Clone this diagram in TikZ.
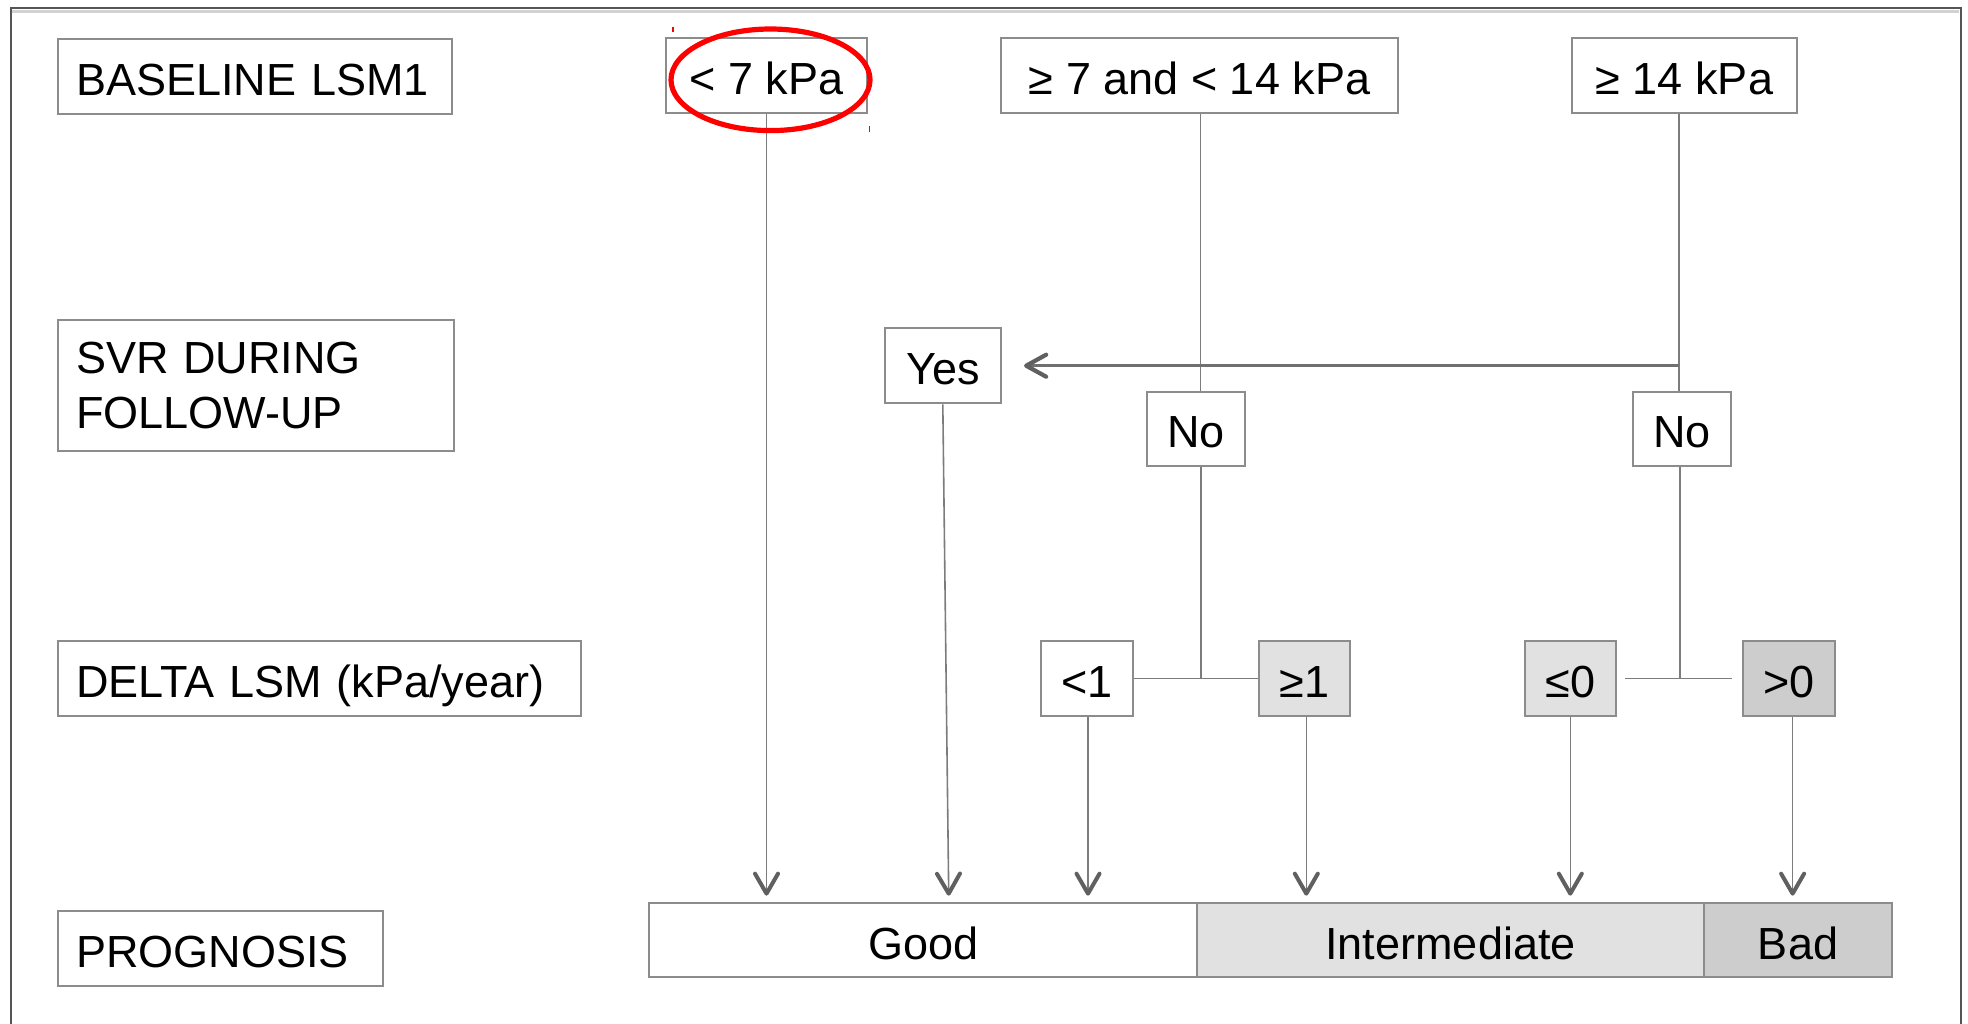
\documentclass[tikz,border=0pt]{standalone}
\usepackage{fontspec}
\setmainfont{Liberation Sans}
\usetikzlibrary{arrows.meta}
\definecolor{boxline}{HTML}{8C8C8C}
\definecolor{conline}{HTML}{7C7C7C}
\definecolor{arrowgray}{HTML}{606060}
\definecolor{fillA}{HTML}{E1E1E1}
\definecolor{fillB}{HTML}{CDCDCD}
\definecolor{framec}{HTML}{555555}
\begin{document}
\begin{tikzpicture}[x=0.5pt,y=-0.5pt,
  font=\fontsize{22.5}{27.5}\selectfont,
  box/.style={draw=boxline,line width=1pt,inner sep=0pt,minimum height=37.5pt,fill=white,text height=19.1pt,text depth=0pt},
  lab/.style={box,anchor=west,inner xsep=9.25pt,align=left},
  conn/.style={draw=conline,line width=0.8pt},
  arr/.style={conn,shorten >=3pt,-{Straight Barb[length=10pt,width=11.5pt,line width=2pt,round,color=arrowgray]}},
  harr/.style={draw=arrowgray!90,line width=1.3pt,-{Straight Barb[length=10pt,width=11pt,line width=2.1pt,round,color=arrowgray]}},
]
\useasboundingbox (0,0) rectangle (1968,1023);
% frame
\draw[gray!35,line width=1.5pt] (12,11.5) -- (1959,11.5);
\draw[framec,line width=1pt] (10.7,1030) -- (10.7,8.3) -- (1961,8.3) -- (1961,1030);

% row labels
\node[lab,text width=178.5pt] (lbase) at (56.5,76.8) {BASELINE LSM1};
\node[lab,text width=179.75pt,minimum height=65.35pt,text height=,text depth=] (lsvr) at (56.5,385.3) {SVR DURING\\FOLLOW-UP};
\node[lab,text width=243.4pt] (ldelta) at (56.5,678.8) {DELTA LSM (kPa/year)};
\node[lab,text width=144.25pt] (lprog) at (56.5,948.5) {PROGNOSIS};

% top row
\node[box,minimum width=100.5pt] (a) at (766.5,75.8) {< 7 kPa};
\node[box,minimum width=198.5pt] (b) at (1199.5,75.8) {≥ 7 and < 14 kPa};
\node[box,minimum width=112.6pt] (c) at (1684.4,75.8) {≥ 14 kPa};

% SVR row
\node[box,minimum width=58.25pt,minimum height=37.65pt] (yes) at (942.8,365.7) {Yes};
\node[box,minimum width=49.25pt,minimum height=37.15pt] (no1) at (1195.8,428.8) {No};
\node[box,minimum width=49.15pt,minimum height=37.15pt] (no2) at (1681.9,428.8) {No};

% delta row
\node[box,minimum width=46.4pt] (d1) at (1087,678.5) {<1};
\node[box,minimum width=45.5pt,fill=fillA] (d2) at (1304.3,678.5) {≥1};
\node[box,minimum width=45.5pt,fill=fillA] (d3) at (1570.3,678.5) {≤0};
\node[box,minimum width=46.15pt,fill=fillB] (d4) at (1789.2,678.5) {>0};

% prognosis row
\node[box,minimum width=274pt,minimum height=37.25pt] (good) at (923.3,939.9) {Good};
\node[box,minimum width=253.15pt,minimum height=37.25pt,fill=fillA] (inter) at (1450.5,939.9) {Intermediate};
\node[box,minimum width=94.4pt,minimum height=37.25pt,fill=fillB] (bad) at (1798,939.9) {Bad};

% connectors
\draw[arr] (a.south) -- (a.south |- good.north);
\draw[arr] (yes.south) -- ([xshift=3pt]yes.south |- good.north);
\draw[conn] ([xshift=0.5pt]b.south) -- ([xshift=0.5pt]b.south |- no1.north);
\draw[conn] ([xshift=-2.7pt]c.south) -- ([xshift=-2.7pt]c.south |- no2.north);
\draw[harr,shorten >=11pt] ([xshift=-2.7pt]c.south |- yes.east) -- (yes.east);
\draw[conn] ([xshift=2.5pt]no1.south) -- ([xshift=2.5pt]no1.south |- d1.east);
\draw[conn] (d1.east) -- (d2.west);
\draw[conn] ([xshift=-1pt]no2.south) -- ([xshift=-1pt]no2.south |- d3.east);
\draw[conn,shorten <=4pt,shorten >=5pt] (d3.east) -- (d4.west);
\draw[arr] ([xshift=0.5pt]d1.south) -- ([xshift=0.5pt]d1.south |- good.north);
\draw[arr] ([xshift=1pt]d2.south) -- ([xshift=1pt]d2.south |- inter.north);
\draw[arr] (d3.south) -- (d3.south |- inter.north);
\draw[arr] ([xshift=1.7pt]d4.south) -- ([xshift=1.7pt]d4.south |- bad.north);

% red highlight
\draw[red,line width=2.6pt] (770.5,79.8) ellipse [x radius=49.75pt, y radius=25.4pt];
\draw[red,line width=0.6pt] (673,27) -- (673,32);
\draw[red,line width=0.6pt] (869.5,126) -- (869.5,132);
\end{tikzpicture}
\end{document}
